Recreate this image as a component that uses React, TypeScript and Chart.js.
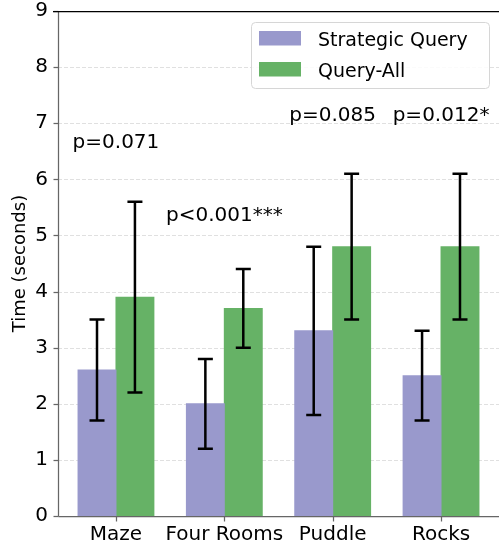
import React, { useEffect, useRef } from 'react';
import { Chart, registerables } from 'chart.js';

Chart.register(...registerables);

const categories = ['Maze', 'Four Rooms', 'Puddle', 'Rocks'];
const strategicMeans = [2.6, 2.0, 3.3, 2.5];
const strategicLow = [1.7, 1.2, 1.8, 1.7];
const strategicHigh = [3.5, 2.8, 4.8, 3.3];
const queryAllMeans = [3.9, 3.7, 4.8, 4.8];
const queryAllLow = [2.2, 3.0, 3.5, 3.5];
const queryAllHigh = [5.6, 4.4, 6.1, 6.1];
const pLabels = ['p=0.071', 'p<0.001***', 'p=0.085', 'p=0.012*'];
const pLabelY = [6.56, 5.26, 7.04, 7.04];
const seriesNames = ['Strategic Query', 'Query-All'];
const yTitle = 'Time (seconds)';

const PURPLE = 'rgb(153,153,204)';
const GREEN = 'rgb(102,178,102)';
const AXIS = '#666666';
const GRID = '#e0e0e0';
const FONT = '"DejaVu Sans", sans-serif';

function drawGrid(chart: any, x0: number, x1: number) {
  const ctx = chart.ctx;
  const y = chart.scales.y;
  ctx.save();
  ctx.strokeStyle = GRID;
  ctx.lineWidth = 1;
  ctx.setLineDash([4, 2]);
  y.ticks.forEach((t: any) => {
    if (t.value <= 0 || t.value >= 9) return;
    const py = Math.round(y.getPixelForValue(t.value)) + 0.5;
    ctx.beginPath();
    ctx.moveTo(x0, py);
    ctx.lineTo(x1, py);
    ctx.stroke();
  });
  ctx.restore();
}

const overlay = {
  id: 'overlay',
  beforeDatasetsDraw(chart: any) {
    const area = chart.chartArea;
    drawGrid(chart, area.left, chart.width);
  },
  afterDraw(chart: any) {
    const ctx = chart.ctx;
    const area = chart.chartArea;
    const y = chart.scales.y;
    const x = chart.scales.x;

    const lows = [strategicLow, queryAllLow];
    const highs = [strategicHigh, queryAllHigh];
    ctx.save();
    // error bars
    ctx.strokeStyle = '#000';
    ctx.lineWidth = 2.5;
    for (let d = 0; d < 2; d++) {
      const meta = chart.getDatasetMeta(d);
      meta.data.forEach((el: any, i: number) => {
        const cx = el.x;
        const yl = y.getPixelForValue(lows[d][i]);
        const yh = y.getPixelForValue(highs[d][i]);
        ctx.beginPath();
        ctx.moveTo(cx, yl);
        ctx.lineTo(cx, yh);
        ctx.moveTo(cx - 7.5, yl);
        ctx.lineTo(cx + 7.5, yl);
        ctx.moveTo(cx - 7.5, yh);
        ctx.lineTo(cx + 7.5, yh);
        ctx.stroke();
      });
    }
    // p-value annotations
    ctx.fillStyle = '#000';
    ctx.font = '20px ' + FONT;
    ctx.textAlign = 'center';
    ctx.textBaseline = 'alphabetic';
    pLabels.forEach((t, i) => {
      ctx.fillText(t, x.getPixelForValue(i), y.getPixelForValue(pLabelY[i]));
    });

    // spines and ticks
    ctx.strokeStyle = AXIS;
    ctx.lineWidth = 1.25;
    const lx = Math.round(area.left) + 0.5;
    const by = Math.round(area.bottom) + 0.5;
    ctx.beginPath();
    ctx.moveTo(lx, area.top);
    ctx.lineTo(lx, by);
    ctx.stroke();
    ctx.beginPath();
    ctx.moveTo(lx, by);
    ctx.lineTo(chart.width, by);
    ctx.stroke();
    y.ticks.forEach((t: any) => {
      const py = Math.round(y.getPixelForValue(t.value)) + 0.5;
      ctx.beginPath();
      ctx.moveTo(lx - 5, py);
      ctx.lineTo(lx, py);
      ctx.stroke();
    });
    categories.forEach((_, i) => {
      const px = Math.round(x.getPixelForValue(i)) + 0.5;
      ctx.beginPath();
      ctx.moveTo(px, by);
      ctx.lineTo(px, by + 5);
      ctx.stroke();
    });
    // top line
    ctx.strokeStyle = '#000';
    const ty = Math.round(area.top) + 0.5;
    ctx.beginPath();
    ctx.moveTo(53, ty);
    ctx.lineTo(chart.width, ty);
    ctx.stroke();
    ctx.restore();

    // y title
    ctx.save();
    ctx.fillStyle = '#000';
    ctx.font = '18px ' + FONT;
    ctx.translate(25, (area.top + area.bottom) / 2);
    ctx.rotate(-Math.PI / 2);
    ctx.textAlign = 'center';
    ctx.textBaseline = 'alphabetic';
    ctx.fillText(yTitle, 0, 0);
    ctx.restore();

    // legend
    ctx.save();
    const gx = 251.5, gy = 22.5, gw = 238, gh = 66, r = 4;
    ctx.beginPath();
    ctx.moveTo(gx + r, gy);
    ctx.lineTo(gx + gw - r, gy);
    ctx.arcTo(gx + gw, gy, gx + gw, gy + r, r);
    ctx.lineTo(gx + gw, gy + gh - r);
    ctx.arcTo(gx + gw, gy + gh, gx + gw - r, gy + gh, r);
    ctx.lineTo(gx + r, gy + gh);
    ctx.arcTo(gx, gy + gh, gx, gy + gh - r, r);
    ctx.lineTo(gx, gy + r);
    ctx.arcTo(gx, gy, gx + r, gy, r);
    ctx.closePath();
    ctx.fillStyle = 'rgba(255,255,255,0.85)';
    ctx.fill();
    ctx.strokeStyle = '#d6d6d6';
    ctx.lineWidth = 1;
    ctx.stroke();
    const colors = [PURPLE, GREEN];
    const rowTop = [31, 62];
    ctx.font = '19px ' + FONT;
    ctx.textAlign = 'left';
    ctx.textBaseline = 'alphabetic';
    seriesNames.forEach((n, i) => {
      ctx.fillStyle = colors[i];
      ctx.fillRect(259, rowTop[i], 42, 14.5);
      ctx.fillStyle = '#000';
      ctx.fillText(n, 318, rowTop[i] + 15);
    });
    ctx.restore();
  },
};

export default function App() {
  const ref = useRef<HTMLCanvasElement | null>(null);
  useEffect(() => {
    if (!ref.current) return;
    const chart = new Chart(ref.current, {
      type: 'bar',
      data: {
        datasets: [
          {
            label: seriesNames[0],
            data: categories.map((_, i) => ({ x: i, y: strategicMeans[i] })),
            backgroundColor: PURPLE,
            borderWidth: 0,
            inflateAmount: 0.5,
          },
          {
            label: seriesNames[1],
            data: categories.map((_, i) => ({ x: i, y: queryAllMeans[i] })),
            backgroundColor: GREEN,
            borderWidth: 0,
            inflateAmount: 0.5,
          },
        ],
      } as any,
      options: {
        responsive: false,
        animation: false,
        layout: { padding: { top: 11, left: 0, right: 0, bottom: 0 } },
        datasets: { bar: { categoryPercentage: 0.7, barPercentage: 1.0 } },
        plugins: { legend: { display: false }, tooltip: { enabled: false } },
        scales: {
          x: {
            type: 'linear',
            min: -0.535,
            max: 3.535,
            offset: false,
            afterBuildTicks: (s: any) => {
              s.ticks = categories.map((_, i) => ({ value: i }));
            },
            afterFit: (s: any) => {
              s.height = 30;
              s.paddingLeft = 0;
              s.paddingRight = 0;
            },
            ticks: {
              callback: (v: any) => categories[v] ?? '',
              font: { family: FONT, size: 20 },
              color: '#000',
              padding: 7,
              maxRotation: 0,
              autoSkip: false,
            },
            grid: { display: false, drawTicks: false },
            border: { display: false },
          },
          y: {
            min: 0,
            max: 9,
            afterFit: (s: any) => {
              s.width = 58;
              s.paddingTop = 0;
              s.paddingBottom = 0;
            },
            ticks: {
              stepSize: 1,
              font: { family: FONT, size: 20 },
              color: '#000',
              padding: 10,
            },
            grid: { display: false, drawTicks: false },
            border: { display: false },
          },
        },
      } as any,
      plugins: [overlay],
    });
    return () => chart.destroy();
  }, []);
  return (
    <div style={{ position: 'absolute', left: 0, top: 0, width: 499, height: 546, overflow: 'hidden' }}>
      <canvas
        ref={ref}
        width={499}
        height={546}
        style={{ display: 'block', width: 499, height: 546 }}
      />
    </div>
  );
}
